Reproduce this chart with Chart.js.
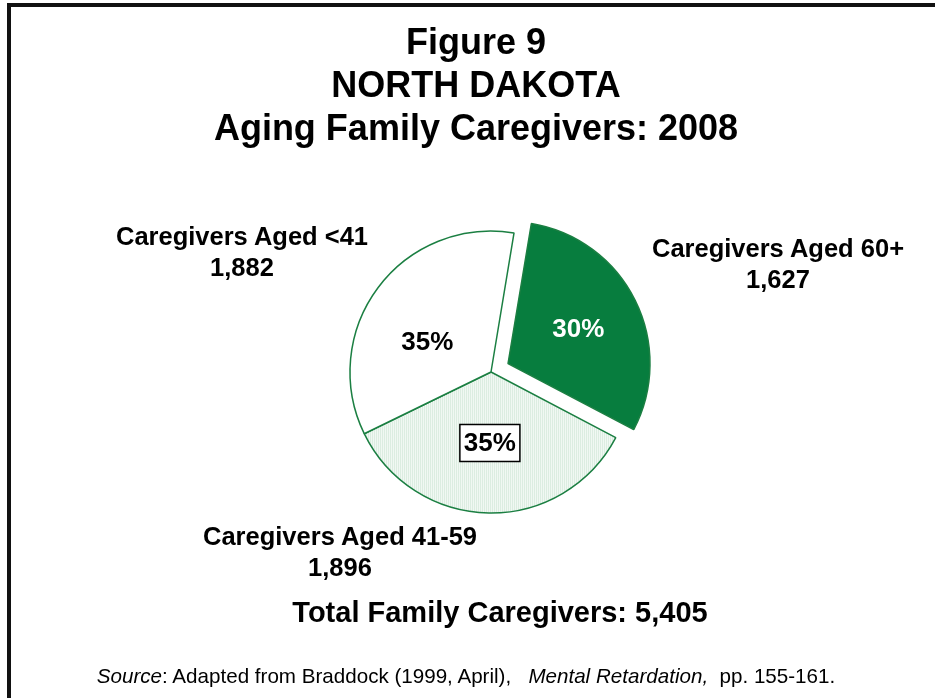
<!DOCTYPE html>
<html>
<head>
<meta charset="utf-8">
<script src="https://cdn.jsdelivr.net/npm/chart.js@4/dist/chart.umd.min.js"></script>
<style>
  body { margin: 0; background: #fff; }
  #wrap { position: relative; width: 935px; height: 698px; overflow: hidden; font-family: "Liberation Sans", Arial, sans-serif; color: #000; }
  #frame { position: absolute; left: 7px; top: 3px; right: -10px; bottom: -10px; border-top: 4.5px solid #111; border-left: 4.5px solid #111; }
  canvas { position: absolute; left: 0; top: 0; }
  .txt { position: absolute; text-align: center; font-weight: bold; white-space: pre; }
  .title { left: 176px; width: 600px; top: 20px; font-size: 36px; line-height: 43px; }
  .lbl { font-size: 25.5px; line-height: 31px; width: 400px; }
  .total { left: 200px; width: 600px; top: 595px; font-size: 29px; line-height: 35px; }
  .src { position: absolute; left: 66px; width: 800px; top: 664px; font-size: 20.6px; line-height: 24px; text-align: center; white-space: pre; }
</style>
</head>
<body>
<div id="wrap">
  <div id="frame"></div>
  <canvas id="pie" width="935" height="698"></canvas>
  <div class="txt title">Figure 9
NORTH DAKOTA
Aging Family Caregivers: 2008</div>
  <div class="txt lbl" id="lbl0" style="left:578px; top:233px;"></div>
  <div class="txt lbl" id="lbl1" style="left:140px; top:521px;"></div>
  <div class="txt lbl" id="lbl2" style="left:42px; top:221px;"></div>
  <div class="txt total" id="total"></div>
  <div class="src"><i>Source</i>: Adapted from Braddock (1999, April),   <i>Mental Retardation,</i>  pp. 155-161.</div>
</div>
<script>
const categories = ['Caregivers Aged 60+', 'Caregivers Aged 41-59', 'Caregivers Aged <41'];
const caregivers = [1627, 1896, 1882];

const total = caregivers.reduce((a, b) => a + b, 0);
const fmt = n => n.toLocaleString('en-US');

categories.forEach((c, i) => {
  document.getElementById('lbl' + i).textContent = c + '\n' + fmt(caregivers[i]);
});
document.getElementById('total').textContent = 'Total Family Caregivers: ' + fmt(total);

// light green fill with fine vertical stripes
const pc = document.createElement('canvas');
pc.width = 2; pc.height = 2;
const pctx = pc.getContext('2d');
pctx.fillStyle = '#f1f8f3'; pctx.fillRect(0, 0, 2, 2);
pctx.fillStyle = '#dcede1'; pctx.fillRect(0, 0, 1, 2);
const ctx = document.getElementById('pie').getContext('2d');
const stripes = ctx.createPattern(pc, 'repeat');

const pctLabels = {
  id: 'pctLabels',
  afterDatasetsDraw(chart) {
    const c = chart.ctx;
    const arcs = chart.getDatasetMeta(0).data;
    arcs.forEach((arc, i) => {
      const p = arc.getProps(['x', 'y', 'startAngle', 'endAngle', 'outerRadius', 'circumference']);
      const mid = (p.startAngle + p.endAngle) / 2;
      const off = (arc.options.offset || 0) / 4;
      const fix = 1 - Math.sin(Math.min(Math.PI, p.circumference));
      const shift = off + off * fix;
      const r = p.outerRadius * (i === 0 ? 0.55 : 0.5);
      const ang = mid + (i === 2 ? -0.2 : 0);
      const x = p.x + Math.cos(mid) * shift + Math.cos(ang) * r;
      const y = p.y + Math.sin(mid) * shift + Math.sin(ang) * r;
      const txt = Math.round(caregivers[i] / total * 100) + '%';
      c.save();
      c.font = 'bold 26px "Liberation Sans", Arial, sans-serif';
      c.textAlign = 'center';
      c.textBaseline = 'middle';
      if (i === 1) {
        const w = c.measureText(txt).width + 8;
        c.fillStyle = '#fff';
        c.fillRect(x - w / 2, y - 18, w, 37);
        c.strokeStyle = '#000';
        c.lineWidth = 1.5;
        c.strokeRect(x - w / 2, y - 18, w, 37);
      }
      c.fillStyle = i === 0 ? '#fff' : '#000';
      c.fillText(txt, x, y + 1);
      c.restore();
    });
  }
};

new Chart(ctx, {
  type: 'pie',
  data: {
    labels: categories,
    datasets: [{
      data: caregivers,
      backgroundColor: ['#077d3e', stripes, '#ffffff'],
      borderColor: '#1b7f42',
      borderWidth: 1.5,
      offset: [76, 0, 0],
      hoverOffset: 0
    }]
  },
  options: {
    responsive: false,
    animation: false,
    events: [],
    rotation: 9.4,
    radius: 141,
    layout: { padding: { left: 200, right: 153, top: 200, bottom: 154 } },
    plugins: {
      legend: { display: false },
      tooltip: { enabled: false },
      title: { display: false }
    }
  },
  plugins: [pctLabels]
});
</script>
</body>
</html>
